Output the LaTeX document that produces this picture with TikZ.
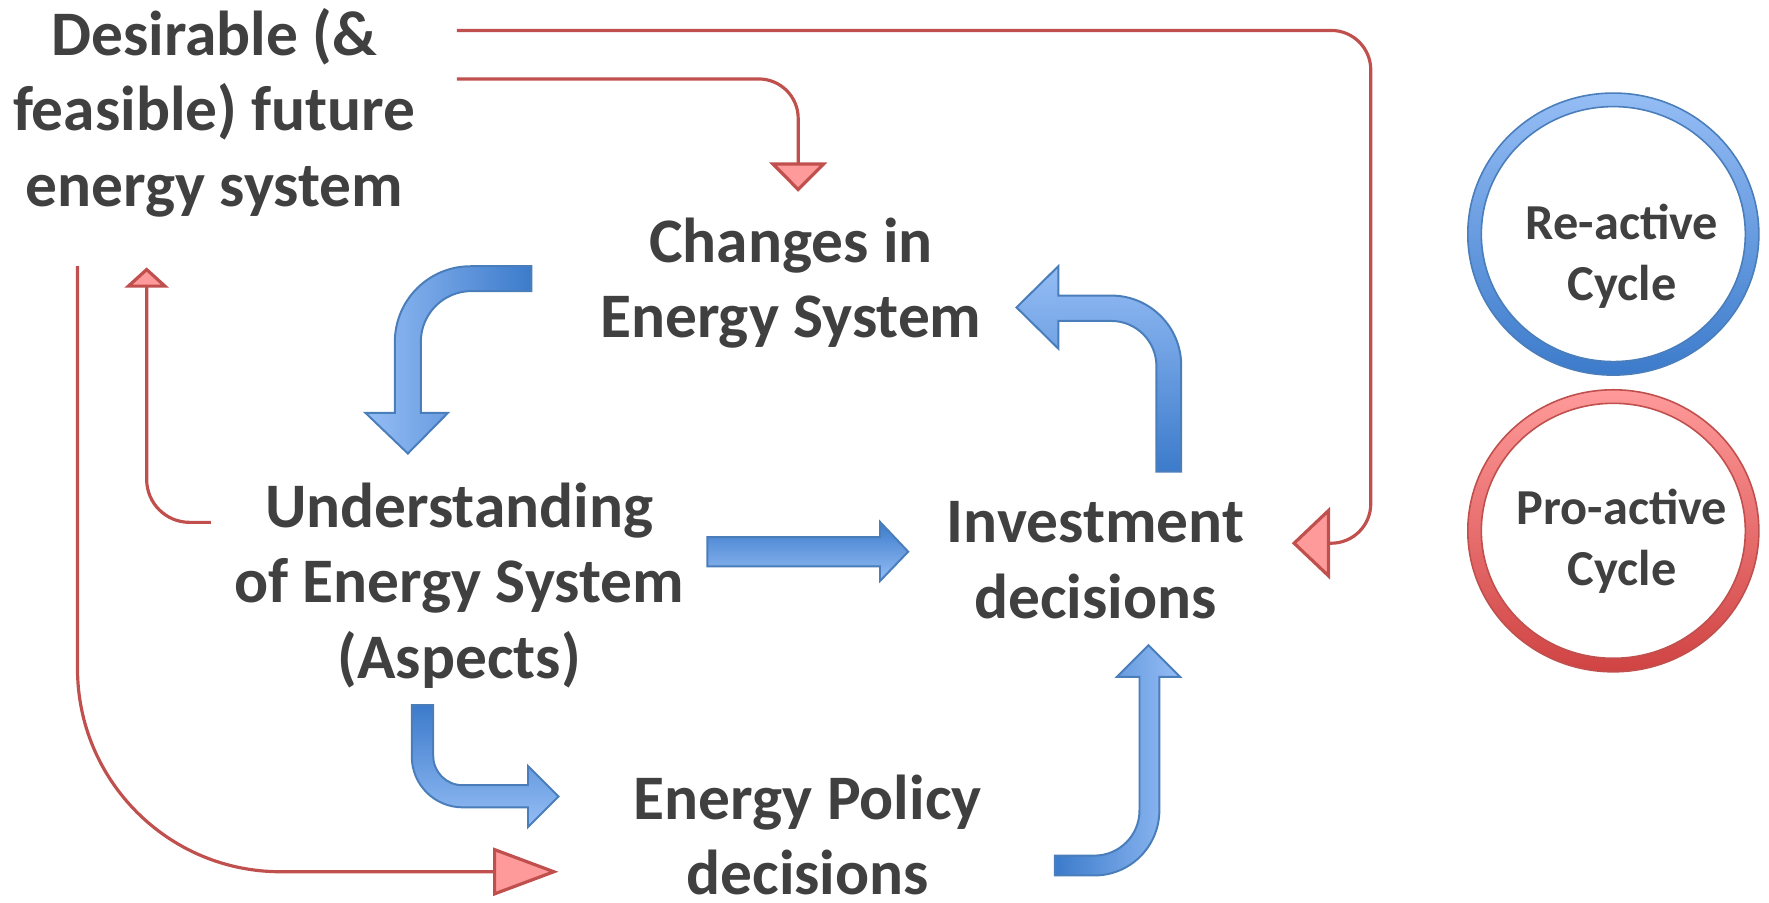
\documentclass[tikz,border=0pt]{standalone}
\usepackage{fontspec}
\setmainfont{Carlito}
\usetikzlibrary{arrows.meta}
\definecolor{txtgray}{HTML}{404040}
\definecolor{blueL}{HTML}{95BDF5}
\definecolor{blueD}{HTML}{3C7BCB}
\definecolor{blueLine}{HTML}{4A7EBB}
\definecolor{redLine}{HTML}{C0504D}
\definecolor{redL}{HTML}{FF9A9A}
\definecolor{redD}{HTML}{D04343}
\newcommand{\ring}[5] % x in cm, y in cm, top colour, bottom colour, edge colour
{
	% shaded ring
	\shade[even odd rule, top color=#3, bottom color=#4] (#1,#2) ellipse (1.29 and 1.25) (#1,#2) ellipse (1.17 and 1.13);
	% thin edges
	\draw[#5, line width=0.4pt] (#1,#2) ellipse (1.29 and 1.25);
	\draw[#5, line width=0.4pt] (#1,#2) ellipse (1.17 and 1.13);
}

\begin{document}
\begin{tikzpicture}[
	lbl/.style={font=\fontsize{16}{19}\selectfont\bfseries, text=txtgray, align=center, inner sep=0pt},
	cyclelbl/.style={font=\fontsize{12.7}{15.3}\selectfont\bfseries, text=txtgray, align=center, inner sep=0pt},
	blockarrow/.style={draw=blueLine, line width=0.5pt},
	redline/.style={draw=redLine, line width=0.8pt}]
	% 15.68cm x 8cm
	\useasboundingbox (0,0) rectangle (15.68,8);
	
	\node[lbl] (future) at (1.90,7.00) {Desirable (\&\\feasible) future\\energy system};
	\node[lbl] (changes) at (7.01,5.49) {Changes in\\Energy System};
	\node[lbl] (underst) at (4.07,2.81) {Understanding\\of Energy System\\(Aspects)};
	\node[lbl] (invest) at (9.71,3.035) {Investment\\decisions};
	\node[lbl] (policy) at (7.16,0.60) {Energy Policy\\decisions};
	
	% legend
	\ring{14.30}{5.925}{blueL}{blueD}{blueLine};
	\ring{14.30}{3.295}{redL}{redD}{redLine};
	\node[cyclelbl] (reactive) at (14.377,5.73) {Re-active\\Cycle};
	\node[cyclelbl] (proactive) at (14.377,3.205) {Pro-active\\Cycle};
	
	% re-active cycle
	\shadedraw[blockarrow, left color=blueL, right color=blueD]
		(4.71,5.64) -- (4.17,5.64) arc[start angle=90, end angle=180, radius=0.67] -- (3.50,4.34) -- (3.24,4.34) -- (3.615,3.98) -- (3.97,4.34) -- (3.73,4.34) -- (3.73,4.97) arc[start angle=180, end angle=90, radius=0.45] -- (4.71,5.42) -- cycle;
	\shadedraw[blockarrow, top color=blueL, bottom color=blueD]
		(10.47,3.82) -- (10.47,4.76) arc[start angle=0, end angle=90, radius=0.62] -- (9.38,5.38) -- (9.38,5.64) -- (9.01,5.275) -- (9.38,4.91) -- (9.38,5.155) -- (9.85,5.155) arc[start angle=90, end angle=0, radius=0.40] -- (10.25,3.82) -- cycle;
	\shadedraw[blockarrow, top color=blueD, bottom color=blueL]
		(6.27,3.24) -- (7.80,3.24) -- (7.80,3.374) -- (8.05,3.11) -- (7.80,2.85) -- (7.80,2.98) -- (6.27,2.98) -- cycle;
	\shadedraw[blockarrow, top color=blueD, bottom color=blueL]
		(3.65,1.75) -- (3.65,1.294) arc[start angle=180, end angle=270, radius=0.45] -- (4.68,0.844) -- (4.68,0.67) -- (4.95,0.94) -- (4.68,1.21) -- (4.68,1.04) -- (4.10,1.04) arc[start angle=270, end angle=180, radius=0.26] -- (3.84,1.75) -- cycle;
	\shadedraw[blockarrow, left color=blueD, right color=blueL]
		(9.35,0.24) -- (9.70,0.24) arc[start angle=270, end angle=360, radius=0.576] -- (10.276,2.00) -- (10.46,2.00) -- (10.18,2.28) -- (9.90,2.00) -- (10.10,2.00) -- (10.10,0.816) arc[start angle=0, end angle=-90, radius=0.40] -- (9.35,0.416) -- cycle;
	
	% pro-active cycle
	\coordinate (fTop) at (4.05,7.73);
	\coordinate (fMid) at (4.05,7.30);
	\coordinate (fLow) at (0.687,5.64);
	\coordinate (uLeft) at (1.87,3.37);
	\coordinate (invIn) at (11.45,3.185);
	\coordinate (chgIn) at (7.075,6.30);
	\coordinate (futIn) at (1.30,5.63);
	\coordinate (polIn) at (4.95,0.273);
	\draw[redline, rounded corners=3.5mm, -{Triangle[width=6.4mm, length=3.4mm, fill=redL]}] (fTop) -| ([xshift=7mm]invIn) -- (invIn);
	\draw[redline, rounded corners=3.5mm, -{Triangle[width=5.1mm, length=2.6mm, fill=redL]}] (fMid) -| (chgIn);
	\draw[redline, rounded corners=3.8mm, -{Triangle[width=3.9mm, length=1.8mm, fill=redL]}] (uLeft) -| (futIn);
	\draw[redline, rounded corners=18mm, -{Triangle[width=4.25mm, length=5.8mm, fill=redL]}] (fLow) |- (polIn);
	
\end{tikzpicture}
\end{document}
